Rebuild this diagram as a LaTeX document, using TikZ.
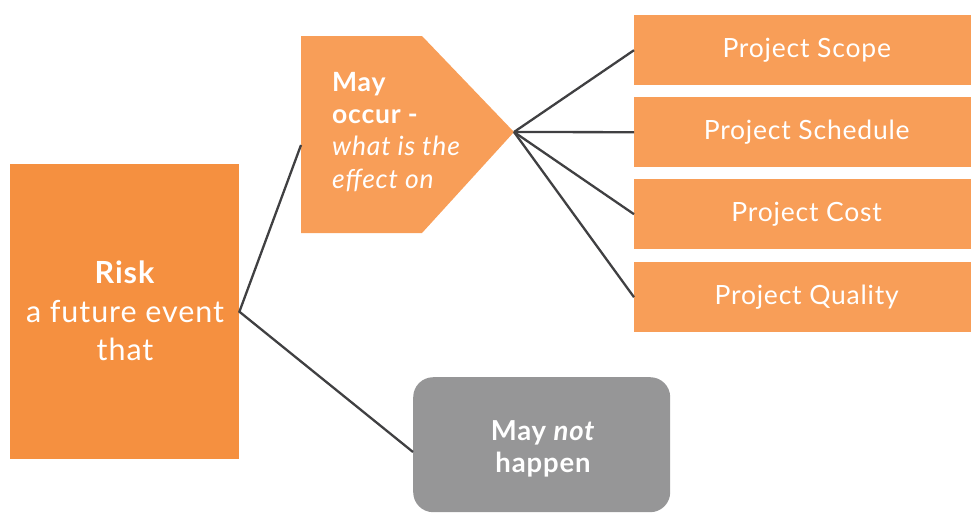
\documentclass[tikz,border=0pt]{standalone}
\usepackage{fontspec}
\setmainfont[LetterSpace=3]{Lato}
\definecolor{riskorange}{RGB}{245,144,64}
\definecolor{boxorange}{RGB}{248,158,88}
\definecolor{boxgray}{RGB}{150,150,151}
\definecolor{linegray}{RGB}{64,64,66}
\begin{document}
\begin{tikzpicture}[x=1pt,y=-1pt,
  conn/.style={draw=linegray,line width=2.3pt},
  projbox/.style={fill=boxorange,minimum width=337pt,minimum height=70pt,inner sep=0pt,anchor=north west},
  projtxt/.style={text=white,font=\fontsize{26.5}{30}\selectfont}]
\useasboundingbox (0,0) rectangle (971,514);
% Risk box
\node[fill=riskorange,minimum width=229pt,minimum height=295pt,inner sep=0pt,anchor=north west] (risk) at (10,164) {};
\node[text=white,align=center,font=\fontsize{30.5}{38.5}\selectfont,anchor=center] (risktxt) at (125,311) {\textbf{Risk}\\a future event\\that};
% pentagon
\fill[boxorange] (301,36) -- (422,36) -- (514,132) -- (422,233) -- (301,233) -- cycle;
\coordinate (pentL) at (301,145);
\coordinate (tip) at (514,132);
\node[text=white,align=left,anchor=north west,inner sep=0pt,font=\fontsize{26.5}{32.3}\selectfont] (occur) at (332,72) {\textbf{May}\\\textbf{occur -}\\\textit{what is the}\\\textit{effect on}};
% gray box
\node[fill=boxgray,rounded corners=20pt,minimum width=257pt,minimum height=135pt,inner sep=0pt,anchor=north west] (notbox) at (413,377) {};
\coordinate (notL) at (413,452);
\node[text=white,align=center,font=\bfseries\fontsize{27.5}{32}\selectfont] (nottxt) at (543,449) {May \textit{not}\\happen};
% project boxes
\node[projbox] (scope) at (634,15) {};
\node[projtxt] at ([xshift=4pt]scope.center) {Project Scope};
\node[projbox] (sched) at (634,97) {};
\node[projtxt] at ([xshift=4pt]sched.center) {Project Schedule};
\node[projbox] (cost) at (634,179) {};
\node[projtxt] at ([xshift=4pt]cost.center) {Project Cost};
\node[projbox] (qual) at (634,262) {};
\node[projtxt] at ([xshift=4pt]qual.center) {Project Quality};
% connectors
\draw[conn] (pentL) -- (risk.east) -- (notL);
\draw[conn] (tip) -- (scope.west);
\draw[conn] (tip) -- (sched.west);
\draw[conn] (tip) -- (cost.west);
\draw[conn] (tip) -- (qual.west);
\end{tikzpicture}
\end{document}
